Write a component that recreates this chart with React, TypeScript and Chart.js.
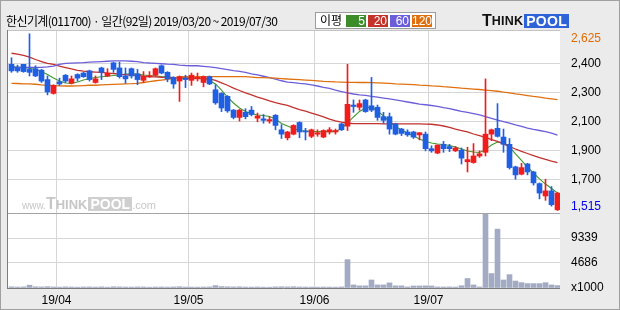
import { useEffect, useRef } from "react";
import { Chart, registerables } from "chart.js";

Chart.register(...registerables);

// ---- data (92 trading days, 2019/03/20 ~ 2019/07/30) ----
const opens = [
  2495, 2470, 2495, 2460, 2465, 2455, 2390, 2295, 2375, 2420,
  2365, 2425, 2435, 2450, 2370, 2470, 2415, 2505, 2470, 2415,
  2465, 2430, 2385, 2410, 2420, 2485, 2440, 2405, 2380, 2400,
  2385, 2395, 2370, 2410, 2320, 2295, 2275, 2180, 2130, 2165,
  2180, 2125, 2120, 2105, 2145, 2045, 1990, 2015, 2095, 2035,
  2000, 2015, 1995, 2030, 2030, 2085, 2070, 2215, 2200, 2250,
  2210, 2200, 2135, 2135, 2085, 2050, 2030, 2030, 2010, 2015,
  1915, 1885, 1945, 1930, 1900, 1905, 1825, 1820, 1865, 1890,
  2015, 2055, 1995, 1945, 1790, 1740, 1810, 1755, 1675, 1590,
  1625, 1495,
];
const highs = [
  2540, 2490, 2495, 2705, 2485, 2460, 2415, 2355, 2400, 2425,
  2415, 2430, 2440, 2455, 2415, 2475, 2465, 2510, 2510, 2470,
  2470, 2460, 2445, 2445, 2470, 2490, 2445, 2410, 2415, 2420,
  2435, 2435, 2415, 2415, 2355, 2300, 2280, 2185, 2185, 2190,
  2205, 2160, 2150, 2135, 2150, 2080, 2035, 2080, 2100, 2055,
  2050, 2045, 2045, 2060, 2050, 2090, 2495, 2250, 2250, 2255,
  2405, 2215, 2165, 2160, 2090, 2055, 2045, 2035, 2025, 2030,
  1935, 1940, 1965, 1945, 1930, 1920, 1925, 1950, 1900, 2395,
  2050, 2225, 2050, 1985, 1795, 1815, 1815, 1760, 1680, 1705,
  1655, 1615,
];
const lows = [
  2440, 2440, 2440, 2415, 2410, 2370, 2285, 2290, 2350, 2370,
  2360, 2380, 2405, 2380, 2365, 2390, 2410, 2440, 2400, 2365,
  2400, 2355, 2370, 2405, 2415, 2430, 2375, 2330, 2240, 2335,
  2350, 2380, 2340, 2355, 2220, 2170, 2165, 2120, 2105, 2120,
  2140, 2100, 2090, 2090, 2045, 1985, 1975, 2010, 1990, 1975,
  1990, 2000, 1990, 2015, 2015, 2040, 2040, 2165, 2180, 2165,
  2170, 2110, 2090, 2015, 2010, 2005, 2000, 1985, 1975, 1900,
  1890, 1880, 1890, 1895, 1895, 1810, 1755, 1815, 1855, 1865,
  1970, 1995, 1890, 1775, 1705, 1735, 1735, 1665, 1570, 1560,
  1520, 1490,
];
const closes = [
  2450, 2450, 2445, 2440, 2415, 2380, 2305, 2350, 2360, 2380,
  2395, 2400, 2410, 2390, 2395, 2440, 2435, 2460, 2410, 2395,
  2415, 2390, 2410, 2415, 2465, 2435, 2395, 2360, 2410, 2390,
  2420, 2405, 2410, 2360, 2230, 2195, 2175, 2130, 2180, 2135,
  2150, 2140, 2110, 2115, 2075, 2015, 2030, 2075, 2030, 2030,
  2045, 2025, 2040, 2045, 2040, 2045, 2220, 2205, 2225, 2170,
  2180, 2130, 2110, 2050, 2015, 2020, 2010, 1995, 2025, 1915,
  1900, 1940, 1915, 1915, 1920, 1850, 1840, 1865, 1880, 2015,
  2045, 2000, 1945, 1785, 1735, 1785, 1755, 1680, 1610, 1625,
  1530, 1610,
];
// volume, thousand shares
const volumes = [
  220, 180, 200, 520, 230, 200, 250, 190, 170, 210,
  180, 160, 190, 200, 170, 210, 160, 230, 200, 180,
  170, 200, 190, 150, 180, 190, 170, 200, 240, 180,
  170, 160, 180, 200, 450, 260, 230, 200, 220, 180,
  170, 190, 160, 150, 210, 230, 200, 240, 190, 180,
  170, 160, 180, 170, 160, 200, 5300, 570, 400, 400,
  1500, 570, 570, 950, 400, 400, 200, 380, 380, 400,
  380, 200, 190, 200, 180, 420, 1770, 570, 200, 13900,
  2700, 11000, 1500, 2500, 1300, 1000, 820, 820, 820, 1000,
  570, 450,
];
const ma5 = [
  2480, 2477, 2473, 2468, 2459, 2446, 2425, 2401, 2380, 2367,
  2363, 2373, 2387, 2397, 2404, 2409, 2413, 2418, 2422, 2428,
  2430, 2428, 2422, 2418, 2415, 2411, 2408, 2404, 2401, 2399,
  2397, 2397, 2394, 2384, 2360, 2318, 2270, 2229, 2195, 2171,
  2157, 2147, 2143, 2136, 2119, 2088, 2071, 2054, 2040, 2037,
  2033, 2033, 2032, 2032, 2033, 2054, 2092, 2133, 2171, 2195,
  2202, 2174, 2140, 2102, 2068, 2044, 2023, 2002, 1982, 1965,
  1954, 1947, 1944, 1937, 1927, 1913, 1899, 1892, 1889, 1910,
  1940, 1961, 1958, 1927, 1879, 1834, 1789, 1748, 1707, 1672,
  1641, 1611,
];
const ma20 = [
  2571, 2565, 2556, 2545, 2528, 2514, 2501, 2494, 2483, 2473,
  2463, 2454, 2448, 2444, 2442, 2439, 2435, 2432, 2428, 2423,
  2422, 2418, 2413, 2409, 2408, 2406, 2405, 2404, 2404, 2402,
  2401, 2400, 2398, 2395, 2385, 2368, 2351, 2332, 2315, 2299,
  2285, 2270, 2257, 2243, 2232, 2222, 2212, 2198, 2184, 2174,
  2160, 2147, 2133, 2119, 2107, 2098, 2090, 2088, 2088, 2087,
  2087, 2087, 2086, 2086, 2086, 2086, 2086, 2085, 2085, 2084,
  2083, 2078, 2071, 2061, 2050, 2040, 2030, 2016, 2004, 1992,
  1978, 1965, 1947, 1930, 1913, 1896, 1882, 1868, 1854, 1841,
  1830, 1820,
];
const ma60 = [
  2473, 2473, 2473, 2473, 2474, 2474, 2478, 2483, 2494, 2501,
  2503, 2505, 2507, 2510, 2512, 2514, 2516, 2518, 2518, 2518,
  2516, 2513, 2507, 2504, 2502, 2499, 2496, 2494, 2490, 2487,
  2485, 2485, 2481, 2477, 2472, 2466, 2459, 2452, 2446, 2439,
  2430, 2422, 2413, 2404, 2394, 2382, 2373, 2369, 2364, 2360,
  2353, 2346, 2337, 2329, 2318, 2308, 2298, 2291, 2285, 2281,
  2275, 2269, 2263, 2257, 2250, 2243, 2236, 2229, 2222, 2217,
  2212, 2206, 2198, 2191, 2181, 2172, 2164, 2156, 2147, 2135,
  2123, 2112, 2101, 2090, 2078, 2068, 2057, 2048, 2040, 2032,
  2022, 2009,
];
const ma120 = [
  2364, 2363, 2361, 2360, 2358, 2354, 2351, 2349, 2347, 2346,
  2346, 2347, 2349, 2351, 2351, 2353, 2355, 2357, 2359, 2361,
  2362, 2364, 2370, 2376, 2382, 2387, 2392, 2401, 2408, 2410,
  2410, 2410, 2410, 2410, 2410, 2410, 2410, 2410, 2410, 2410,
  2407, 2404, 2403, 2402, 2400, 2397, 2394, 2392, 2390, 2387,
  2384, 2381, 2378, 2376, 2374, 2373, 2371, 2371, 2370, 2370,
  2369, 2368, 2366, 2364, 2361, 2359, 2357, 2355, 2352, 2350,
  2347, 2345, 2341, 2338, 2335, 2331, 2328, 2325, 2322, 2318,
  2314, 2310, 2304, 2299, 2292, 2286, 2280, 2274, 2269, 2263,
  2258, 2252,
];

const monthStarts = [8, 30, 51, 70];
const monthLabels = ["19/04", "19/05", "19/06", "19/07"];
const priceTicks = [1515, 1700, 1900, 2100, 2300, 2500, 2669];
const priceTickLabels = ["1,515", "1,700", "1,900", "2,100", "2,300", "2,400", "2,625"];
const volumeTicks = [0, 4686, 9339];
const volumeTickLabels = ["x1000", "4686", "9339"];
const legendItems = [
  { label: "5", color: "#3d8c2a" },
  { label: "20", color: "#c43329" },
  { label: "60", color: "#6b5fd9" },
  { label: "120", color: "#e0700f" },
];
const title = "한신기계(011700) · 일간(92일) 2019/03/20 ~ 2019/07/30";

const UP = "#f21c1c";
const DOWN = "#1f5fe3";
const VOL = "#a2abc3";
const GRID = "#d6d6d6";
const AXIS_FONT = { family: '"Liberation Sans", Arial, sans-serif', size: 12 };

const X_MIN = -0.5 - 1 / 12;
const X_MAX = X_MIN + opens.length;

const framePlugin = {
  id: "frame",
  beforeDraw(chart: any) {
    const { ctx, chartArea: a, width, height } = chart;
    ctx.save();
    ctx.fillStyle = "#ebebeb";
    ctx.fillRect(0, 0, width, height);
    ctx.fillStyle = "#ffffff";
    ctx.fillRect(a.left, a.top, a.right - a.left, a.bottom - a.top);
    ctx.restore();
  },
  afterDraw(chart: any) {
    const { ctx, chartArea: a, width, height, scales } = chart;
    const line = (x1: number, y1: number, x2: number, y2: number, c: string) => {
      ctx.strokeStyle = c;
      ctx.beginPath();
      ctx.moveTo(x1, y1);
      ctx.lineTo(x2, y2);
      ctx.stroke();
    };
    ctx.save();
    ctx.lineWidth = 1;
    const sy = Math.round(scales.y.bottom) + 0.5;
    line(a.left, sy, a.right, sy, "#a4a4a4");
    line(a.left, a.top - 0.5, a.right, a.top - 0.5, "#c4c4c4");
    line(a.left - 0.5, a.top - 1, a.left - 0.5, a.bottom + 1, "#7c7c7c");
    line(a.left - 1, a.bottom + 0.5, a.right, a.bottom + 0.5, "#7c7c7c");
    ctx.strokeStyle = "#a0a0a0";
    ctx.strokeRect(0.5, 0.5, width - 1, height - 1);
    ctx.restore();
  },
};

export default function App() {
  const ref = useRef<HTMLCanvasElement>(null);

  useEffect(() => {
    const idx = opens.map((_, i) => i);
    const candleColor = (c: any) => (closes[c.dataIndex] >= opens[c.dataIndex] ? UP : DOWN);
    const maLine = (label: string, values: number[], color: string, width: number) => ({
      type: "line" as const,
      label,
      data: idx.map((i) => ({ x: i, y: values[i] })),
      borderColor: color,
      borderWidth: width,
      pointRadius: 0,
      tension: 0,
      yAxisID: "y",
      order: 5,
    });

    const chart = new Chart(ref.current as HTMLCanvasElement, {
      type: "bar",
      data: {
        datasets: [
          maLine("MA120", ma120, "#e0700f", 1.3),
          maLine("MA60", ma60, "#6b5fd9", 1.3),
          maLine("MA20", ma20, "#c0322e", 1.3),
          maLine("MA5", ma5, "#3f9a2e", 1.1),
          {
            type: "bar",
            label: "wick",
            data: idx.map((i) => ({ x: i, y: [lows[i], highs[i]] })) as any,
            backgroundColor: candleColor,
            barThickness: 1,
            grouped: false,
            yAxisID: "y",
            order: 1,
          },
          {
            type: "bar",
            label: "body",
            data: idx.map((i) => ({ x: i, y: [opens[i], closes[i]] })) as any,
            backgroundColor: candleColor,
            barThickness: 5,
            minBarLength: 1,
            grouped: false,
            yAxisID: "y",
            order: 0,
          },
          {
            type: "bar",
            label: "volume",
            data: idx.map((i) => ({ x: i, y: volumes[i] })) as any,
            backgroundColor: VOL,
            barThickness: 5,
            grouped: false,
            yAxisID: "yv",
            order: 2,
          },
        ],
      },
      options: {
        responsive: false,
        animation: false,
        devicePixelRatio: 1,
        layout: { padding: { left: 8, top: 31, right: 0, bottom: 0 } },
        plugins: { legend: { display: false }, tooltip: { enabled: false } },
        scales: {
          x: {
            type: "linear",
            min: X_MIN,
            max: X_MAX,
            offset: false,
            afterBuildTicks: (s: any) => {
              s.ticks = monthStarts.map((v) => ({ value: v - 0.5 }));
            },
            afterFit: (s: any) => {
              s.height = 22;
            },
            ticks: {
              autoSkip: false,
              maxRotation: 0,
              padding: 5,
              color: "#000",
              font: AXIS_FONT,
              callback: (_v: any, i: number) => monthLabels[i],
            },
            grid: { color: GRID, drawTicks: false, offset: false },
            border: { display: false },
          },
          y: {
            type: "linear",
            position: "right",
            stack: "panels",
            stackWeight: 182,
            min: 1473,
            max: 2724,
            afterBuildTicks: (s: any) => {
              s.ticks = priceTicks.map((v) => ({ value: v }));
            },
            afterFit: (s: any) => {
              s.width = 60;
            },
            ticks: {
              autoSkip: false,
              padding: 11,
              font: AXIS_FONT,
              color: (c: any) =>
                c.index === priceTicks.length - 1 ? "#e06c00" : c.index === 0 ? "#0000ee" : "#000",
              callback: (_v: any, i: number) => priceTickLabels[i],
            },
            grid: {
              drawTicks: false,
              color: (c: any) =>
                c.index === 0 || c.index === priceTicks.length - 1 ? "rgba(0,0,0,0)" : GRID,
            },
            border: { display: false },
          },
          yv: {
            type: "linear",
            position: "right",
            stack: "panels",
            stackWeight: 75,
            min: 0,
            max: 14010,
            afterBuildTicks: (s: any) => {
              s.ticks = volumeTicks.map((v) => ({ value: v }));
            },
            afterFit: (s: any) => {
              s.width = 60;
            },
            ticks: {
              autoSkip: false,
              padding: 11,
              font: AXIS_FONT,
              color: "#000",
              callback: (_v: any, i: number) => volumeTickLabels[i],
            },
            grid: {
              drawTicks: false,
              color: (c: any) => (c.index === 0 ? "rgba(0,0,0,0)" : GRID),
            },
            border: { display: false },
          },
        },
      } as any,
      plugins: [framePlugin],
    });
    return () => chart.destroy();
  }, []);

  return (
    <div
      style={{
        position: "fixed",
        left: 0,
        top: 0,
        width: 620,
        height: 310,
        overflow: "hidden",
        background: "#ebebeb",
      }}
    >
      <canvas
        ref={ref}
        width={620}
        height={310}
        style={{ position: "absolute", left: 0, top: 0, width: 620, height: 310 }}
      />
      <div
        style={{
          position: "absolute",
          left: 6,
          top: 13,
          fontFamily: '"Noto Sans CJK KR", sans-serif',
          fontSize: 12,
          lineHeight: "16px",
          letterSpacing: -0.6,
          whiteSpace: "nowrap",
          color: "#000",
        }}
      >
        {title}
      </div>
      <div
        style={{
          position: "absolute",
          left: 315,
          top: 12,
          width: 119,
          height: 15,
          border: "1px solid #9c9c9c",
          background: "#fff",
        }}
      >
        <span
          style={{
            position: "absolute",
            left: 4,
            top: -1,
            fontFamily: '"Noto Sans CJK KR", sans-serif',
            fontSize: 12,
            lineHeight: "16px",
            color: "#000",
          }}
        >
          이평
        </span>
        {legendItems.map((it, k) => (
          <span
            key={it.label}
            style={{
              position: "absolute",
              left: 30 + k * 22,
              top: 2,
              width: 20,
              height: 12,
              background: it.color,
              color: "#fff",
              fontFamily: '"Liberation Sans", Arial, sans-serif',
              fontSize: 12,
              lineHeight: "12px",
              textAlign: "right",
              boxSizing: "border-box",
              paddingRight: 1,
            }}
          >
            {it.label}
          </span>
        ))}
      </div>
      <div
        style={{
          position: "absolute",
          left: 482,
          top: 13,
          height: 15,
          display: "flex",
          alignItems: "flex-end",
          fontFamily: '"Liberation Sans", Arial, sans-serif',
          fontWeight: 900,
          whiteSpace: "nowrap",
        }}
      >
        <span style={{ fontSize: 16, lineHeight: "15px", color: "#111" }}>T</span>
        <span style={{ fontSize: 12.5, lineHeight: "13px", color: "#111", letterSpacing: 0.2 }}>HINK</span>
        <span
          style={{
            marginLeft: 1,
            background: "#2d62d8",
            color: "#fff",
            fontSize: 14,
            lineHeight: "14px",
            padding: "0 2px",
            letterSpacing: 0.3,
          }}
        >
          POOL
        </span>
      </div>
      <div
        style={{
          position: "absolute",
          left: 22,
          top: 196,
          height: 15,
          display: "flex",
          alignItems: "flex-end",
          fontFamily: '"Liberation Sans", Arial, sans-serif',
          whiteSpace: "nowrap",
          color: "#c6c6c6",
        }}
      >
        <span style={{ fontSize: 10, lineHeight: "11px" }}>www.</span>
        <span style={{ fontSize: 16, lineHeight: "14px", fontWeight: 900 }}>T</span>
        <span style={{ fontSize: 13, lineHeight: "12px", fontWeight: 900 }}>HINK</span>
        <span
          style={{
            fontSize: 14,
            lineHeight: "14px",
            fontWeight: 900,
            background: "#cfcfcf",
            color: "#fff",
            padding: "0 2px",
            marginLeft: 1,
          }}
        >
          POOL
        </span>
        <span style={{ fontSize: 11, lineHeight: "12px" }}>.com</span>
      </div>
    </div>
  );
}
